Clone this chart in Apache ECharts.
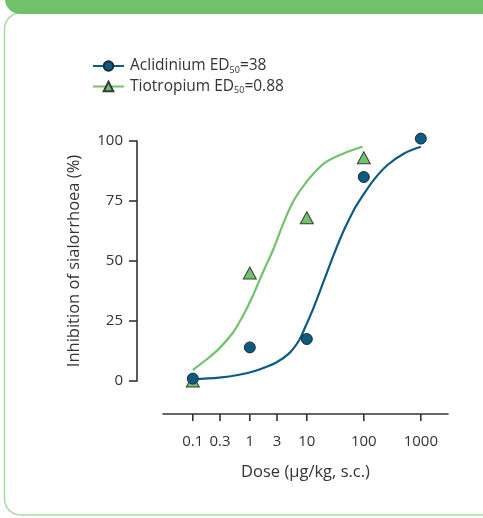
<!DOCTYPE html>
<html>
<head>
<meta charset="utf-8">
<script src="https://cdn.jsdelivr.net/npm/echarts@6/dist/echarts.min.js"></script>
<style>
  html, body { margin: 0; padding: 0; background: #fff; }
  #chart { width: 483px; height: 518px; }
</style>
</head>
<body>
<div id="chart"></div>
<script>
// Observed responses (% inhibition of sialorrhoea) by dose (µg/kg, s.c.)
const aclidiniumDoses = [0.1, 1, 10, 100, 1000];
const aclidiniumValues = [1, 14, 17.5, 85, 101];
const tiotropiumDoses = [0.1, 1, 10, 100];
const tiotropiumValues = [0, 45, 68, 93];

// Fitted dose-response curves
const aclidiniumFitDoses = [0.1, 0.29, 0.65, 1.27, 2.86, 4.89, 7.33, 9.6, 13.4, 20.1, 30.1, 45.1, 67.6, 88.6, 152, 261, 509, 1000];
const aclidiniumFitValues = [0.7, 1.4, 2.6, 4.3, 7.6, 11.5, 17, 23, 31, 42, 53, 63, 71.5, 76, 84, 90, 94.8, 97.6];
const tiotropiumFitDoses = [0.1, 0.169, 0.289, 0.497, 0.745, 1.11, 1.67, 2.6, 4.0, 6.0, 10.3, 20.1, 45.1, 95];
const tiotropiumFitValues = [4.6, 8.75, 13.5, 19.9, 26.8, 35.1, 44.9, 55, 66.5, 75.5, 83.5, 90.7, 94.9, 97.6];

// Axis ticks
const xMin = 0.03;
const xMax = 3000;
const xTickValues = [0.1, 0.3, 1, 3, 10, 100, 1000];
const xTickLabels = ['0.1', '0.3', '1', '3', '10', '100', '1000'];

const seriesNames = ['Aclidinium', 'Tiotropium'];
const legendLabels = {
  'Aclidinium': 'Aclidinium ED{sub|50}=38',
  'Tiotropium': 'Tiotropium ED{sub|50}=0.88'
};

const BLUE = '#0e5b82';
const GREEN = '#70c26b';
const DARK = '#333333';
const FONT = 'Open Sans';
const X_AXIS_DROP = 33;   // dose axis sits below the plotting area
const X_TICK_LEN = 7;

const zip = (xs, ys) => xs.map((x, i) => [x, ys[i]]);

const chart = echarts.init(document.getElementById('chart'), null, { renderer: 'canvas' });

chart.setOption({
  animation: false,
  backgroundColor: '#ffffff',
  textStyle: { fontFamily: FONT },
  graphic: [
    {
      id: 'card', type: 'rect', z: -10,
      shape: { x: 4.5, y: 13, width: 520, height: 502, r: [16, 0, 0, 16] },
      style: { fill: '#ffffff', stroke: '#a8dba2', lineWidth: 1.5 }
    },
    {
      id: 'band', type: 'rect', z: -9,
      shape: { x: 5, y: -20, width: 520, height: 34, r: [0, 0, 0, 15] },
      style: { fill: '#70c26a' }
    }
  ],
  legend: {
    data: seriesNames,
    orient: 'vertical',
    left: 92,
    top: 58,
    padding: 0,
    itemWidth: 31,
    itemHeight: 12,
    itemGap: 4,
    formatter: name => legendLabels[name],
    textStyle: {
      fontFamily: FONT,
      fontSize: 15.5,
      color: DARK,
      padding: [0, 0, 0, 1],
      rich: {
        sub: { fontSize: 9, fontFamily: FONT, color: DARK, verticalAlign: 'bottom', padding: [8, 0, 0, 0] }
      }
    }
  },
  grid: { left: 163, top: 141, width: 285, height: 240 },
  xAxis: {
    type: 'log',
    logBase: 10,
    min: xMin,
    max: xMax,
    offset: X_AXIS_DROP,
    name: 'Dose (μg/kg, s.c.)',
    nameLocation: 'middle',
    nameGap: 50,
    nameTextStyle: { fontFamily: FONT, fontSize: 16.5, color: DARK },
    axisLine: { show: true, onZero: false, lineStyle: { color: DARK, width: 1.6 } },
    axisTick: { show: false },
    axisLabel: {
      customValues: xTickValues,
      margin: 20,
      fontFamily: FONT,
      fontSize: 15,
      color: DARK,
      formatter: v => {
        const i = xTickValues.findIndex(t => Math.abs(t - v) / t < 1e-6);
        return i >= 0 ? xTickLabels[i] : '';
      }
    },
    splitLine: { show: false },
    minorTick: { show: false }
  },
  yAxis: {
    type: 'value',
    min: 0,
    max: 100,
    interval: 25,
    offset: 26,
    name: 'Inhibition of sialorrhoea (%)',
    nameLocation: 'middle',
    nameGap: 54,
    nameTextStyle: { fontFamily: FONT, fontSize: 16.5, color: DARK },
    axisLine: { show: true, onZero: false, lineStyle: { color: DARK, width: 1.6 } },
    axisTick: { show: true, length: 8, lineStyle: { color: DARK, width: 1.6 } },
    axisLabel: { margin: 14, fontFamily: FONT, fontSize: 15, color: DARK },
    splitLine: { show: false }
  },
  series: [
    {
      // tick marks under the dose axis line, one per labelled dose
      name: 'dose ticks',
      type: 'scatter',
      silent: true,
      clip: false,
      data: xTickValues.map(v => [v, 0]),
      symbol: 'rect',
      symbolSize: [1.6, X_TICK_LEN],
      symbolOffset: [0, X_AXIS_DROP + X_TICK_LEN / 2],
      itemStyle: { color: DARK, opacity: 1 },
      z: 1
    },
    {
      name: 'Aclidinium',
      type: 'line',
      data: zip(aclidiniumFitDoses, aclidiniumFitValues),
      smooth: 0.35,
      showSymbol: false,
      symbol: 'circle',
      symbolSize: 10,
      lineStyle: { color: BLUE, width: 2.2 },
      itemStyle: { color: BLUE, borderColor: '#1d2b33', borderWidth: 1 },
      clip: false,
      z: 2
    },
    {
      name: 'Tiotropium',
      type: 'line',
      data: zip(tiotropiumFitDoses, tiotropiumFitValues),
      smooth: 0.35,
      showSymbol: false,
      symbol: 'triangle',
      symbolSize: 11,
      lineStyle: { color: GREEN, width: 2.2 },
      itemStyle: { color: GREEN, borderColor: '#3a3a3a', borderWidth: 1 },
      clip: false,
      z: 2
    },
    {
      name: 'Tiotropium data',
      type: 'scatter',
      data: zip(tiotropiumDoses, tiotropiumValues),
      symbol: 'triangle',
      symbolSize: [13, 12],
      itemStyle: { color: GREEN, borderColor: '#3a3a3a', borderWidth: 1, opacity: 1 },
      clip: false,
      z: 3
    },
    {
      name: 'Aclidinium data',
      type: 'scatter',
      data: zip(aclidiniumDoses, aclidiniumValues),
      symbol: 'circle',
      symbolSize: 11,
      itemStyle: { color: BLUE, borderColor: '#1d2b33', borderWidth: 1, opacity: 1 },
      clip: false,
      z: 4
    }
  ]
});
</script>
</body>
</html>
